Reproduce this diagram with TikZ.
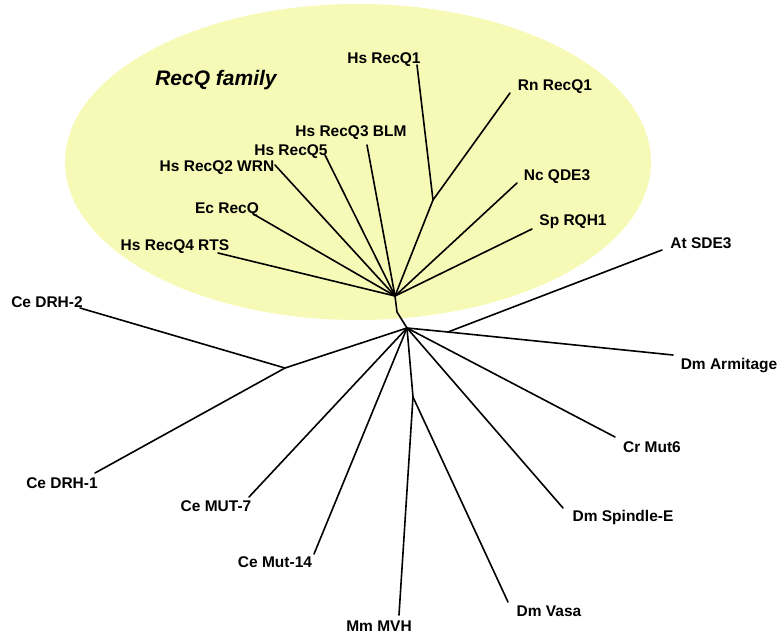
\documentclass[tikz,border=0pt]{standalone}
\usepackage{fontspec}
\setmainfont{Liberation Sans}
\definecolor{recqyellow}{RGB}{247,250,182}
\begin{document}
\begin{tikzpicture}[x=1pt,y=-1pt,
  lbl/.style={font=\fontsize{15.5}{17}\selectfont\bfseries, inner sep=0pt, anchor=center},
  br/.style={line width=1.6pt, line join=round, line cap=round}]
\useasboundingbox (0,0) rectangle (780,637);
% ellipse
\fill[recqyellow] (358,162) ellipse [x radius=293, y radius=158];
\node[font=\fontsize{21}{24}\selectfont\bfseries\itshape, inner sep=0pt] (fam) at (216,80) {RecQ family};
% labels
\node[lbl] (l1) at (384,60) {Hs RecQ1};
\node[lbl] (l2) at (555,87) {Rn RecQ1};
\node[lbl] (l3) at (557,177) {Nc QDE3};
\node[lbl] (l4) at (573,222) {Sp RQH1};
\node[lbl] (l5) at (701,243) {At SDE3};
\node[lbl] (l6) at (351,133) {Hs RecQ3 BLM};
\node[lbl] (l7) at (291,152) {Hs RecQ5};
\node[lbl] (l8) at (217,168) {Hs RecQ2 WRN};
\node[lbl] (l9) at (227,210) {Ec RecQ};
\node[lbl] (l10) at (175,247) {Hs RecQ4 RTS};
\node[lbl] (l11) at (47,302) {Ce DRH-2};
\node[lbl] (l12) at (62,483) {Ce DRH-1};
\node[lbl] (l13) at (216,506) {Ce MUT-7};
\node[lbl] (l14) at (275,562) {Ce Mut-14};
\node[lbl] (l15) at (379,626) {Mm MVH};
\node[lbl] (l16) at (549,611) {Dm Vasa};
\node[lbl] (l17) at (623,517) {Dm Spindle-E};
\node[lbl] (l18) at (652,447) {Cr Mut6};
\node[lbl] (l19) at (729,366) {Dm Armitage};
% leaf ends
\coordinate (e1) at (417,65);
\coordinate (e2) at (510,93);
\coordinate (e3) at (517,183);
\coordinate (e4) at (532,229);
\coordinate (e5) at (662,250);
\coordinate (e6) at (367,145);
\coordinate (e7) at (325,155);
\coordinate (e8) at (275,165);
\coordinate (e9) at (255,215);
\coordinate (e10) at (218,253);
\coordinate (e11) at (80,308);
\coordinate (e12) at (95,473);
\coordinate (e13) at (249,497);
\coordinate (e14) at (314,554);
\coordinate (e15) at (399,615);
\coordinate (e16) at (508,602);
\coordinate (e17) at (563,508);
\coordinate (e18) at (615,437);
\coordinate (e19) at (673,355);
% internal nodes
\coordinate (R) at (395,296);
\coordinate (Rb) at (397,312);
\coordinate (C) at (407,328);
\coordinate (Q) at (433,200);
\coordinate (D) at (285,368);
\coordinate (A) at (448,332);
\coordinate (V) at (413,397);
% branches
\draw[br] (R) -- (Rb) -- (C);
\draw[br] (R) -- (Q);
\draw[br] (Q) -- (e1);
\draw[br] (Q) -- (e2);
\draw[br] (R) -- (e3);
\draw[br] (R) -- (e4);
\draw[br] (R) -- (e6);
\draw[br] (R) -- (e7);
\draw[br] (R) -- (e8);
\draw[br] (R) -- (e9);
\draw[br] (R) -- (e10);
\draw[br] (C) -- (D);
\draw[br] (D) -- (e11);
\draw[br] (D) -- (e12);
\draw[br] (C) -- (e13);
\draw[br] (C) -- (e14);
\draw[br] (C) -- (V);
\draw[br] (V) -- (e15);
\draw[br] (V) -- (e16);
\draw[br] (C) -- (e17);
\draw[br] (C) -- (e18);
\draw[br] (C) -- (A);
\draw[br] (A) -- (e19);
\draw[br] (A) -- (e5);
\end{tikzpicture}
\end{document}
